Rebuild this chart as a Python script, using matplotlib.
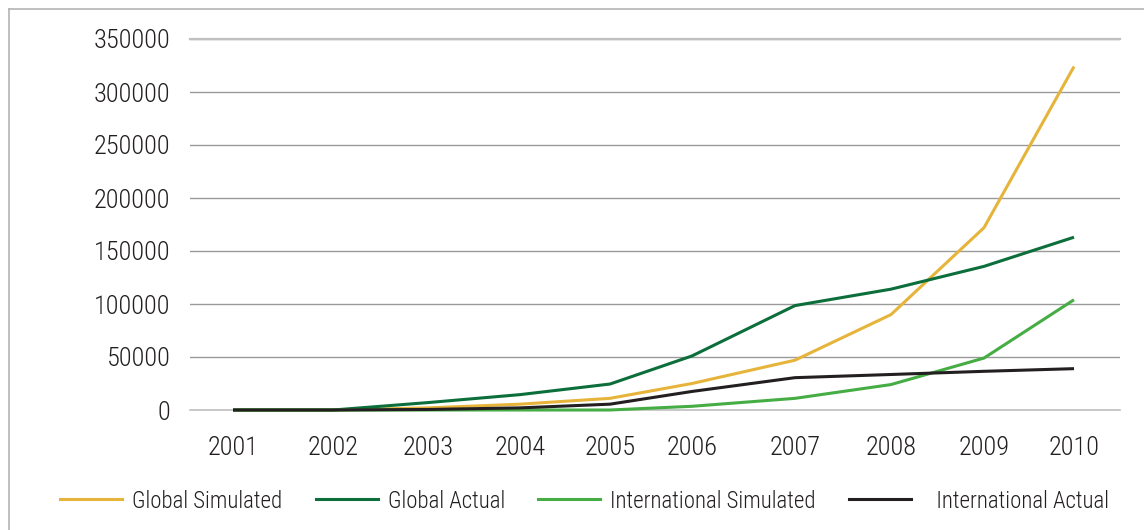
import matplotlib.pyplot as plt
from matplotlib.lines import Line2D

years = ['2001', '2002', '2003', '2004', '2005', '2006', '2007', '2008', '2009', '2010']
global_simulated = [0, 0, 2000, 5500, 11000, 25000, 47000, 90000, 172000, 324000]
global_actual = [0, 0, 7000, 14500, 24500, 51000, 98500, 114000, 135500, 163000]
intl_simulated = [0, 0, 0, 0, 0, 3500, 11000, 24000, 49000, 104000]
intl_actual = [0, 0, 500, 2000, 5500, 17500, 30500, 33500, 36500, 39000]
y_ticks = [0, 50000, 100000, 150000, 200000, 250000, 300000, 350000]
names = ['Global Simulated', 'Global Actual', 'International Simulated', '   International Actual']
colors = ['#e6b43a', '#0b6e3b', '#46ad44', '#231f20']

# the source chart spaces the years unevenly (positions in figure pixels)
x_pos = [233, 333, 428, 520, 610, 692, 795, 891, 984, 1074]

plt.rcParams['font.family'] = ['Roboto Condensed', 'DejaVu Sans']
plt.rcParams['font.weight'] = 'light'

fig = plt.figure(figsize=(11.44, 5.3), dpi=100)
ax = fig.add_axes([190 / 1144, 1 - 410 / 530, 930 / 1144, 371 / 530])

all_vals = [global_simulated, global_actual, intl_simulated, intl_actual]
for name, vals, col in zip(names, all_vals, colors):
    ax.plot(x_pos, vals, color=col, lw=2.2, label=name.strip(), clip_on=False,
            solid_capstyle='butt', zorder=3)

ax.set_ylim(0, 350000)
ax.set_xlim(190, 1120)
ax.set_yticks(y_ticks)
ax.set_yticklabels([str(v) for v in y_ticks])
ax.set_xticks(x_pos)
ax.set_xticklabels(years)
ax.yaxis.grid(True, color='#9a9a9a', lw=1)
ax.axhline(0, color='#c0c0c0', lw=1.2, zorder=1, clip_on=False)
ax.axhline(350000, color='#c0c0c0', lw=1.6, zorder=1, clip_on=False)
ax.set_axisbelow(True)
for s in ax.spines.values():
    s.set_visible(False)
ax.tick_params(length=0, labelsize=19, colors='#231f20')
ax.tick_params(axis='y', pad=14)
ax.tick_params(axis='x', pad=19)

handles = [Line2D([], [], color=c, lw=2.2) for c in colors]
fig.legend(handles, names, loc='center', bbox_to_anchor=(0.511, 1 - 501 / 530),
           ncol=4, frameon=False, fontsize=16.5, handlelength=2.7,
           handletextpad=0.44, columnspacing=1.45, labelcolor='#231f20')

# light frame on the top and left of the figure
fig.add_artist(Line2D([9 / 1144, 9 / 1144], [0, 1 - 9 / 530], transform=fig.transFigure,
                      color='#b4b4b4', lw=1.2))
fig.add_artist(Line2D([9 / 1144, 1], [1 - 9 / 530, 1 - 9 / 530], transform=fig.transFigure,
                      color='#b4b4b4', lw=1.2))

fig.savefig('out.png', dpi=100)
